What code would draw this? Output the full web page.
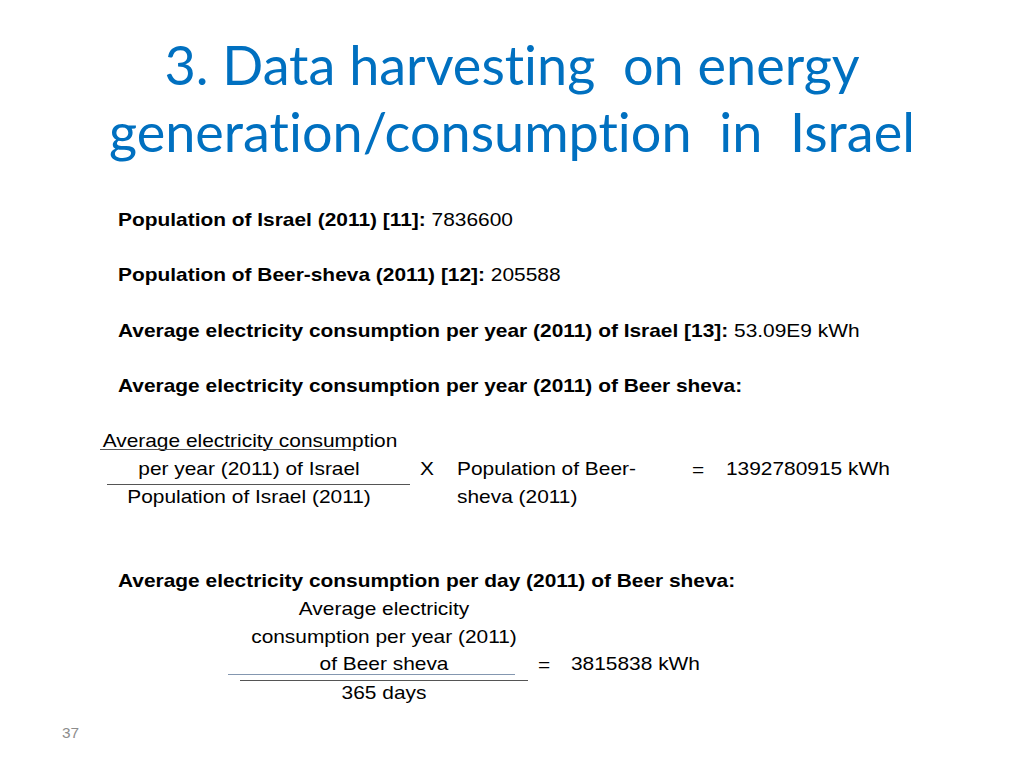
<!DOCTYPE html>
<html>
<head>
<meta charset="utf-8">
<script src="https://cdn.jsdelivr.net/npm/chart.js@4"></script>
<style>
  html, body { margin: 0; padding: 0; background: #fff; }
  #slide { position: relative; width: 1024px; height: 768px; overflow: hidden; font-family: "Liberation Sans", Arial, sans-serif; color: #000; }
  .t { position: absolute; white-space: nowrap; font-size: 19px; line-height: 1; transform-origin: left center; transform: translateY(-50%) scaleX(1.1); }
  .c { transform-origin: center center; transform: translate(-50%, -50%) scaleX(1.1); }
  .title { position: absolute; left: 0; width: 1024px; text-align: center; color: #0070c0; font-family: Lato, "Open Sans", sans-serif; font-size: 54px; line-height: 1; transform: translateY(-50%); font-variant-ligatures: none; white-space: pre; }
  .rule { position: absolute; height: 0; border-top: 1px solid #555; }
</style>
</head>
<body>
<div id="slide"></div>
<script>
const titleLines = ['3. Data harvesting  on energy', 'generation/consumption  in  Israel'];
const factLabels = [
  'Population of Israel (2011) [11]:',
  'Population of Beer-sheva (2011) [12]:',
  'Average electricity consumption per year (2011) of Israel [13]:',
  'Average electricity consumption per year (2011) of Beer sheva:'
];
const factValues = ['7836600', '205588', '53.09E9 kWh', ''];
const yearResult = '1392780915 kWh';
const dayResult = '3815838 kWh';
const pageNumber = '37';

const slide = document.getElementById('slide');

function addText(text, x, y, opts = {}) {
  const d = document.createElement('div');
  d.className = opts.title ? 'title' : 't' + (opts.center ? ' c' : '');
  if (!opts.title) d.style.left = x + 'px';
  d.style.top = y + 'px';
  if (opts.bold) d.style.fontWeight = 'bold';
  if (opts.color) d.style.color = opts.color;
  if (opts.size) d.style.fontSize = opts.size + 'px';
  d.innerHTML = text;
  slide.appendChild(d);
}

function addRule(x1, x2, y, color) {
  const d = document.createElement('div');
  d.className = 'rule';
  d.style.left = x1 + 'px';
  d.style.width = (x2 - x1) + 'px';
  d.style.top = y + 'px';
  if (color) d.style.borderTopColor = color;
  slide.appendChild(d);
}

titleLines.forEach((line, i) => addText(line, 0, 65 + i * 67, { title: true }));

const factY = [219, 274, 330, 385];
factLabels.forEach((label, i) => {
  const val = factValues[i] ? ' <span style="font-weight:normal">' + factValues[i] + '</span>' : '';
  addText(label + val, 118, factY[i], { bold: true });
});

// yearly fraction
addText('Average electricity consumption', 250, 440, { center: true });
addRule(100, 355, 449);
addText('per year (2011) of Israel', 249, 468, { center: true });
addRule(107, 410, 484);
addText('Population of Israel (2011)', 249, 496, { center: true });
addText('X', 420, 468);
addText('Population of Beer-', 457, 468);
addText('sheva (2011)', 457, 496);
addText('=', 692, 469);
addText(yearResult, 726, 468);

// daily fraction
addText('Average electricity consumption per day (2011) of Beer sheva:', 118, 580, { bold: true });
addText('Average electricity', 384, 608, { center: true });
addText('consumption per year (2011)', 384, 636, { center: true });
addText('of Beer sheva', 384, 663, { center: true });
addRule(228, 515, 674, '#8497b0');
addRule(240, 528, 680);
addText('365 days', 384, 692, { center: true });
addText('=', 538, 664);
addText(dayResult, 571, 663);

addText(pageNumber, 62, 733, { color: '#8c8c8c', size: 14 });
</script>
</body>
</html>
